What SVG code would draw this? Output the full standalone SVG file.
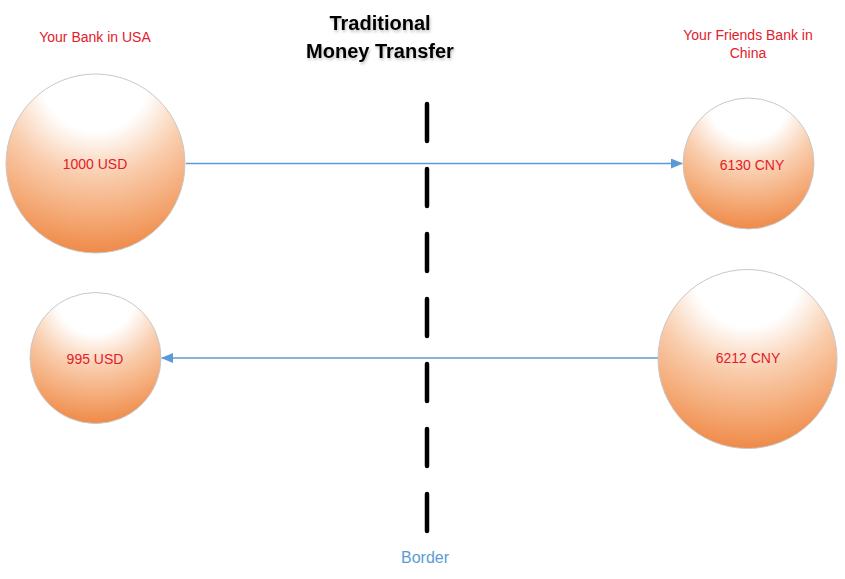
<svg xmlns="http://www.w3.org/2000/svg" width="845" height="579" viewBox="0 0 845 579">
<defs>
<radialGradient id="orb" cx="0.5" cy="0.02" r="1" fx="0.5" fy="0.02">
<stop offset="0" stop-color="#ffffff"/>
<stop offset="0.3" stop-color="#ffffff"/>
<stop offset="0.55" stop-color="#f9cdad"/>
<stop offset="0.8" stop-color="#f4a772"/>
<stop offset="1" stop-color="#ee8744"/>
</radialGradient>
<marker id="ah" markerWidth="12" markerHeight="10" refX="11" refY="5" orient="auto" markerUnits="userSpaceOnUse">
<path d="M0,0 L12,5 L0,10 Z" fill="#5b9bd5"/>
</marker>
<filter id="sh" x="-10%" y="-30%" width="120%" height="160%">
<feGaussianBlur in="SourceAlpha" stdDeviation="1.5"/>
<feOffset dx="1" dy="2"/>
<feComponentTransfer><feFuncA type="linear" slope="0.25"/></feComponentTransfer>
<feMerge><feMergeNode/><feMergeNode in="SourceGraphic"/></feMerge>
</filter>
</defs>
<style>
.orb{fill:url(#orb);stroke:#c8c8c8;stroke-width:1}
.lbl{font-family:"Liberation Sans",Arial,sans-serif;font-size:14px;fill:#e3202a;text-anchor:middle}
.ttl{font-family:"Liberation Sans",Arial,sans-serif;font-size:20px;font-weight:bold;fill:#000;text-anchor:middle}
.conn{stroke:#5b9bd5;stroke-width:1.5;fill:none}
</style>
<rect width="845" height="579" fill="#ffffff"/>
<g id="title" filter="url(#sh)">
<text class="ttl" x="380" y="30">Traditional</text>
<text class="ttl" x="380" y="58">Money Transfer</text>
</g>
<g id="usa-label"><text class="lbl" x="95" y="42">Your Bank in USA</text></g>
<g id="china-label"><text class="lbl" x="748" y="40">Your Friends Bank in</text><text class="lbl" x="748" y="58">China</text></g>
<g id="border">
<line x1="427" y1="104" x2="427" y2="531" stroke="#000" stroke-width="4.5" stroke-linecap="round" stroke-dasharray="37 28"/>
<text x="425" y="563" font-family="'Liberation Sans',Arial,sans-serif" font-size="16" fill="#5b9bd5" text-anchor="middle">Border</text>
</g>
<g id="connectors">
<line class="conn" x1="186" y1="163.5" x2="682" y2="163.5" marker-end="url(#ah)"/>
<line class="conn" x1="658" y1="358" x2="162" y2="358" marker-end="url(#ah)"/>
</g>
<g id="usd1000"><circle class="orb" cx="95.5" cy="163.5" r="89.5"/><text class="lbl" x="95" y="169">1000 USD</text></g>
<g id="cny6130"><circle class="orb" cx="748.5" cy="163.5" r="65.5"/><text class="lbl" x="752" y="170">6130 CNY</text></g>
<g id="usd995"><circle class="orb" cx="95.5" cy="358" r="65.5"/><text class="lbl" x="95" y="364">995 USD</text></g>
<g id="cny6212"><circle class="orb" cx="747.5" cy="359" r="89.5"/><text class="lbl" x="748" y="363">6212 CNY</text></g>
</svg>
